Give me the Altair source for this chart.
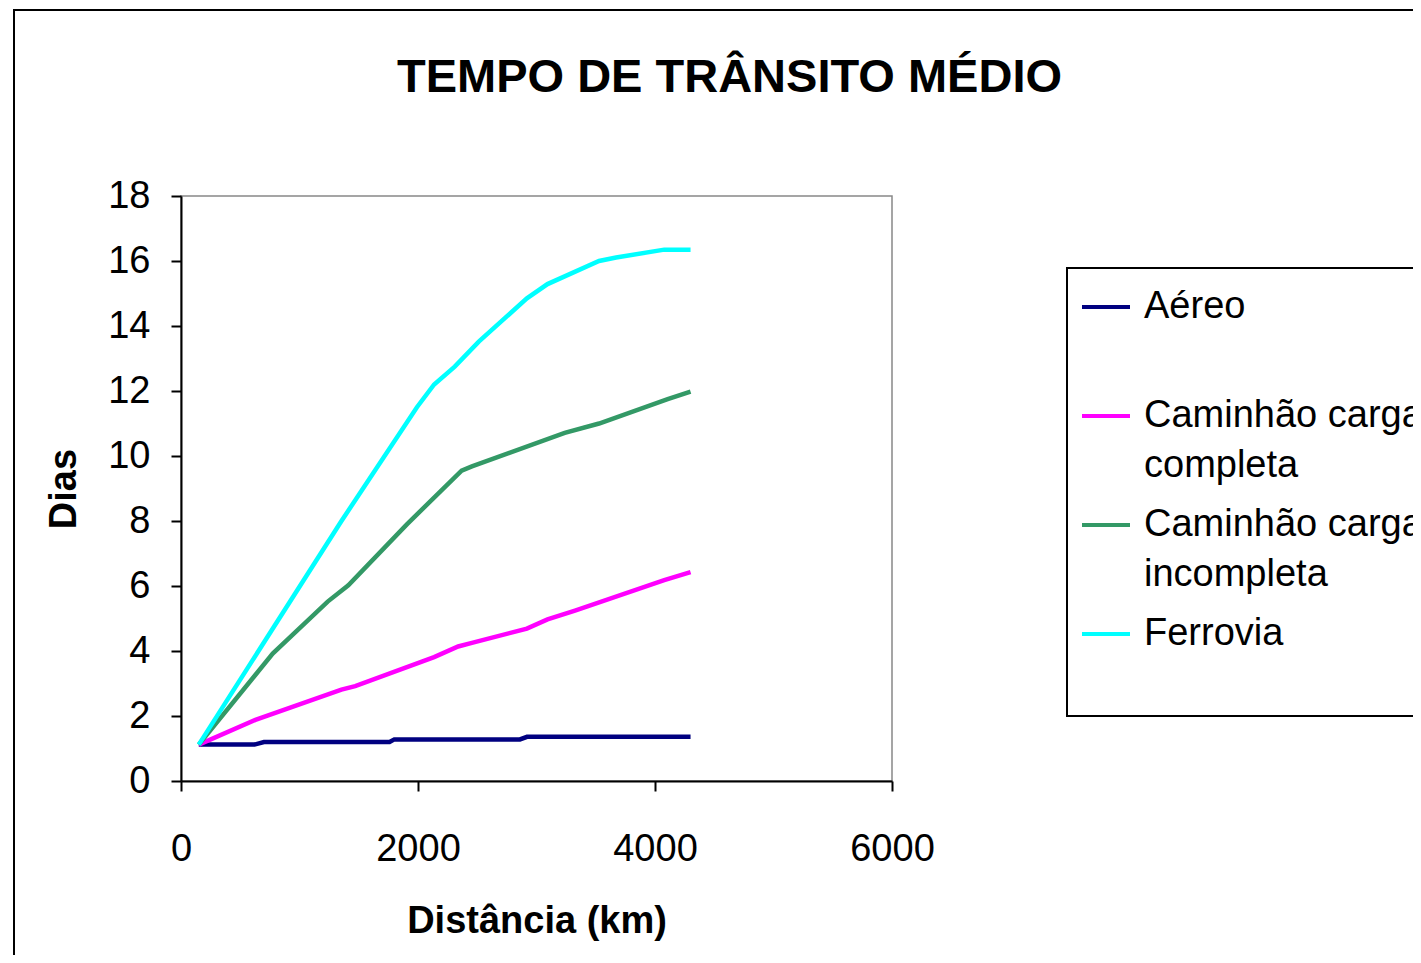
import altair as alt
import pandas as pd

series = ["Aéreo", "Caminhão carga completa", "Caminhão carga incompleta", "Ferrovia"]
colors = ["#000080", "#FF00FF", "#339966", "#00FFFF"]

dist_aereo = [150, 620, 700, 1760, 1800, 2860, 2920, 4300]
dias_aereo = [1.12, 1.12, 1.2, 1.2, 1.28, 1.28, 1.36, 1.36]

dist_completa = [150, 628, 1354, 1470, 2136, 2339, 2455, 2919, 3093, 3325, 4078, 4300]
dias_completa = [1.12, 1.88, 2.81, 2.92, 3.81, 4.14, 4.25, 4.69, 4.97, 5.24, 6.18, 6.43]

dist_incompleta = [150, 774, 1238, 1412, 1904, 2368, 2455, 3238, 3528, 4107, 4300]
dias_incompleta = [1.12, 3.92, 5.52, 6.02, 7.89, 9.55, 9.68, 10.71, 11.0, 11.75, 11.98]

dist_ferrovia = [150, 1354, 1991, 2136, 2310, 2513, 2919, 3093, 3528, 3672, 4078, 4300]
dias_ferrovia = [1.12, 8.0, 11.5, 12.2, 12.75, 13.52, 14.85, 15.29, 16.0, 16.11, 16.35, 16.35]

x_ticks = [0, 2000, 4000, 6000]
y_ticks = [0, 2, 4, 6, 8, 10, 12, 14, 16, 18]

rows = []
for name, xs, ys in [
    (series[0], dist_aereo, dias_aereo),
    (series[1], dist_completa, dias_completa),
    (series[2], dist_incompleta, dias_incompleta),
    (series[3], dist_ferrovia, dias_ferrovia),
]:
    for i, (a, b) in enumerate(zip(xs, ys)):
        rows.append({"serie": name, "dist": a, "dias": b, "ordem": i})
df = pd.DataFrame(rows)

FONT = "Liberation Sans"

label_expr = (
    "datum.label == 'Aéreo' ? ['Aéreo', ' '] : "
    "datum.label == 'Ferrovia' ? ['Ferrovia', ' '] : "
    "[slice(datum.label, 0, 14), slice(datum.label, 15)]"
)

lines = alt.Chart(df).mark_line(strokeWidth=4.5, clip=False).encode(
    x=alt.X("dist:Q", title="Distância (km)",
            scale=alt.Scale(domain=[0, 6000], nice=False),
            axis=alt.Axis(values=x_ticks, format="d", labelPadding=39,
                          labelFlush=False, titlePadding=34)),
    y=alt.Y("dias:Q", title="Dias",
            scale=alt.Scale(domain=[0, 18], nice=False),
            axis=alt.Axis(values=y_ticks, labelPadding=21, titlePadding=24)),
    color=alt.Color("serie:N", title=None,
                    scale=alt.Scale(domain=series, range=colors),
                    legend=alt.Legend(orient="none", legendX=886, legendY=72,
                                      symbolType="stroke", symbolSize=2304,
                                      symbolStrokeWidth=4, labelOffset=12,
                                      labelFontSize=38, labelFont=FONT,
                                      labelColor="black", labelLimit=0,
                                      labelExpr=label_expr,
                                      rowPadding=14, padding=13,
                                      fillColor="white", strokeColor="black")),
    order="ordem:Q",
)

frame = alt.Chart(pd.DataFrame({"a": [0]})).mark_rect(
    filled=False, stroke="black", strokeWidth=2
).encode(
    x=alt.value(-167), x2=alt.value(1319), y=alt.value(-186), y2=alt.value(804)
)

chart = alt.layer(frame, lines).properties(
    width=711, height=585,
    padding={"left": 173, "top": 188, "right": 521, "bottom": 174},
    autosize=alt.AutoSizeParams(type="none"),
    title=alt.TitleParams("TEMPO DE TRÂNSITO MÉDIO", font=FONT, fontSize=47,
                          fontWeight="bold", color="black", anchor="middle",
                          frame="group", dx=193, offset=-130, baseline="alphabetic"),
).configure(
    background="white",
    style={"guide-label": {"lineHeight": 50}},
).configure_view(
    stroke="#888888", strokeWidth=1.5
).configure_axis(
    labelFont=FONT, labelFontSize=38, labelColor="black",
    titleFont=FONT, titleFontSize=38, titleFontWeight="bold", titleColor="black",
    domainColor="black", domainWidth=2, tickColor="black", tickWidth=2, tickSize=10,
    grid=False,
).configure_legend(
    strokeWidth=2
)

chart.save("out.html", embed_options={"renderer": "svg", "actions": False})
